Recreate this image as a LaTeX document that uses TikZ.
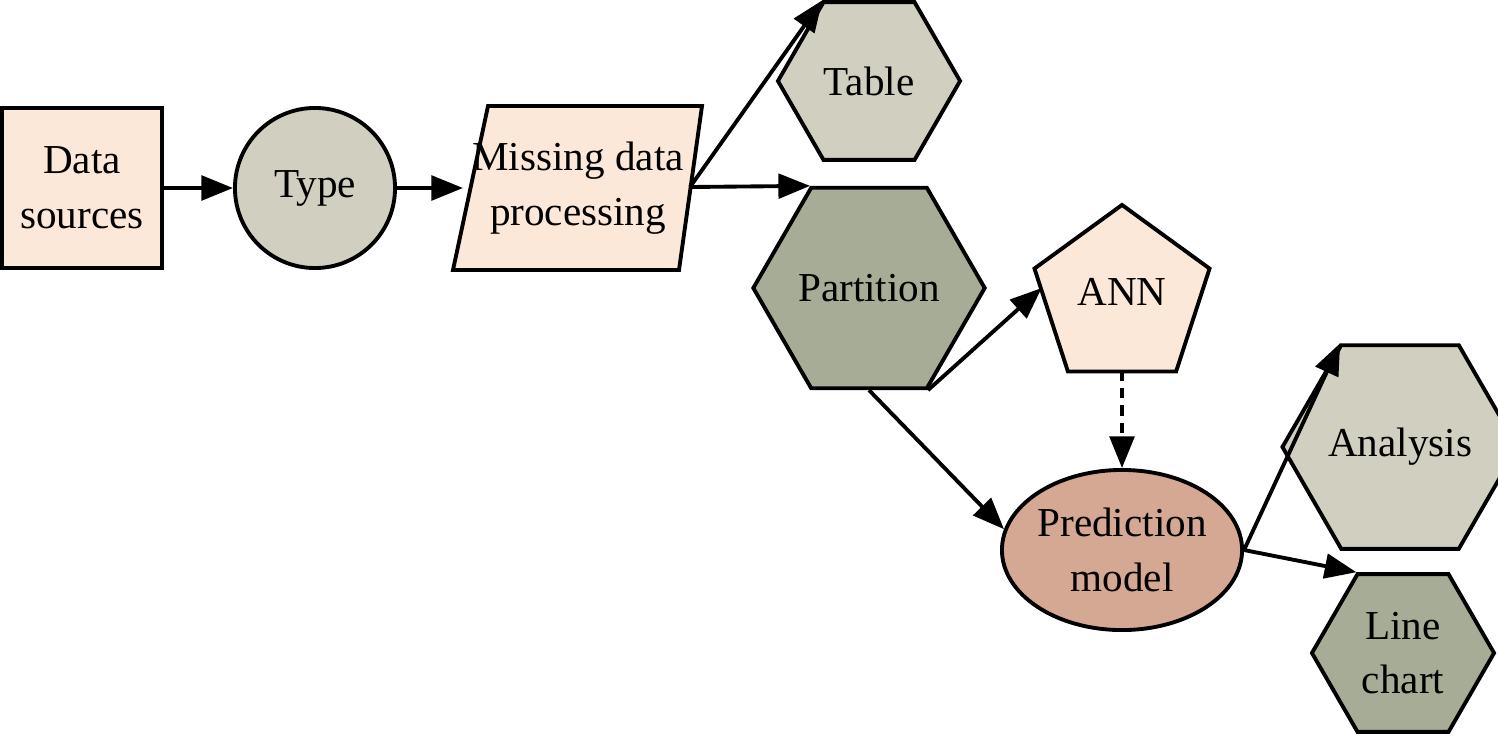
\documentclass[tikz,border=0pt]{standalone}
\usepackage{fontspec}
\setmainfont{Liberation Serif}
\usetikzlibrary{shapes,arrows.meta,positioning,calc}

\definecolor{peach}{HTML}{FCE8D8}
\definecolor{stone}{HTML}{D0CFC0}
\definecolor{sage}{HTML}{A6AC96}
\definecolor{clay}{HTML}{D5A893}

\tikzset{
    every node/.style={font=\fontsize{11.7}{15.6}\selectfont, align=center, line width=1.1pt},
    hexa/.style={regular polygon, regular polygon sides=6, minimum size=1.82cm, inner sep=0pt, draw},
    link/.style={line width=1.1pt, -{Triangle[length=9pt,width=7pt]}}
}

\begin{document}
\begin{tikzpicture}[x=0.01cm, y=-0.01cm]
    \useasboundingbox (0,0) rectangle (1498,736);

    % Define the nodes
    \node[draw, fill=peach, minimum width=1.6cm, minimum height=1.6cm] (src) at (82,188) {Data\\sources};
    \node[draw, circle, fill=stone, minimum size=1.6cm] (type) at (315,188) {Type};
    \node[minimum width=2.22cm, minimum height=1.6cm, inner sep=0pt] (miss) at (578,188) {};
    \fill[peach, draw=black, line width=1.1pt] ($(miss.north west)+(23,0)$) -- ($(miss.north east)+(11,0)$)
        -- ($(miss.south east)+(-12,0)$) -- ($(miss.south west)+(-12,0)$) -- cycle;
    \node at (miss) {Missing data\\processing};
    \node[hexa, fill=stone] (table) at (869,81) {Table};
    \node[hexa, fill=sage] (part) at (869,288) {Partition};
    \node[draw, regular polygon, regular polygon sides=5, minimum size=1.84cm, inner sep=0pt, fill=peach] (ann) at (1122,297) {};
    \node at (1122,292) {ANN};
    \node[draw, ellipse, fill=clay, minimum width=2.4cm, minimum height=1.6cm, inner sep=0pt] (pred) at (1122,550) {Prediction\\model};
    \node[hexa, fill=stone] (ana) at (1400,447) {Analysis};
    \node[hexa, fill=sage] (line) at (1403,653) {Line\\chart};

    % Draw the connectors
    \coordinate (fork) at (690,187);
    \draw[link] (src) -- (type);
    \draw[link] (type) -- (miss.west -| 463,0);
    \draw[link] (fork) -- (table.corner 2);
    \draw[link] (fork) -- (part.corner 2);
    \draw[link] (part.corner 5) -- (ann.west |- part.east);
    \draw[link] (part.south) -- (pred.170);
    \draw[link, densely dashed] (ann.south |- 0,370) -- (pred.north);
    \draw[link] (pred.east) -- (ana.corner 2);
    \draw[link] (pred.east) -- (line.corner 2);
\end{tikzpicture}
\end{document}
